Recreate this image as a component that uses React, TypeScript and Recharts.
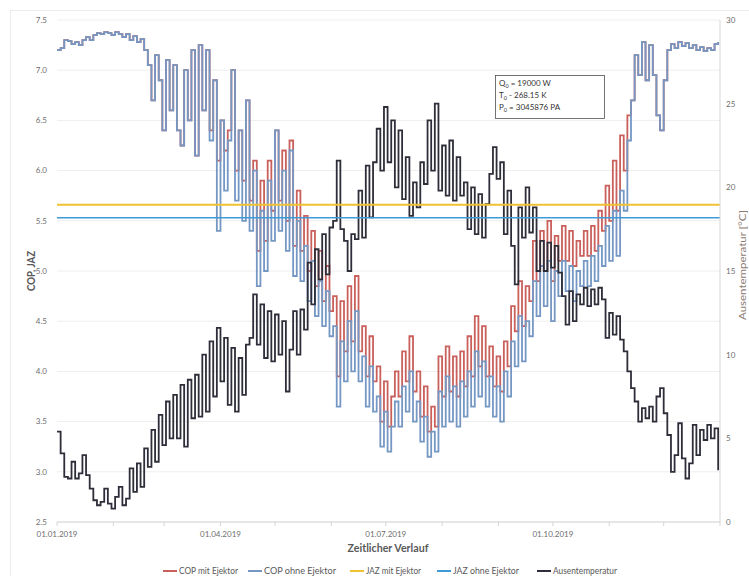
import { CartesianGrid, ComposedChart, Line, ReferenceLine, XAxis, YAxis } from 'recharts';

// one sample every 2 days, starting 01.01.2019
const STEP_DAYS = 2;

const COP_OHNE = [
  7.2, 7.22, 7.3, 7.29, 7.26, 7.28, 7.25, 7.3, 7.33, 7.3,
  7.35, 7.37, 7.36, 7.38, 7.37, 7.35, 7.38, 7.36, 7.33, 7.36,
  7.3, 7.34, 7.28, 7.31, 7.2, 7.05, 6.7, 7.15, 6.9, 6.4,
  7.1, 6.6, 7.05, 6.4, 6.25, 7.0, 6.5, 7.2, 6.15, 7.25,
  6.6, 7.2, 6.3, 6.9, 5.4, 6.5, 5.8, 6.3, 7.0, 5.7,
  6.4, 5.5, 6.7, 5.4, 6.0, 4.85, 5.6, 5.0, 5.9, 5.3,
  6.4, 5.4, 6.0, 5.2, 6.2, 4.95, 5.5, 4.9, 5.25, 4.7,
  5.1, 4.55, 4.9, 4.45, 4.8, 4.35, 4.45, 3.65, 4.3, 3.9,
  4.5, 4.0, 4.6, 3.9, 4.15, 3.65, 4.05, 3.6, 3.75, 3.25,
  3.6, 3.2, 3.45, 3.7, 3.45, 3.85, 3.6, 4.0, 3.5, 3.7,
  3.3, 3.55, 3.15, 3.4, 3.2, 3.8, 3.45, 3.95, 3.5, 3.85,
  3.45, 3.9, 3.55, 4.0, 3.65, 4.2, 3.75, 4.1, 3.65, 3.95,
  3.55, 3.85, 3.5, 4.0, 3.75, 4.3, 4.05, 4.55, 4.1, 4.5,
  4.35, 4.9, 4.55, 5.05, 4.65, 5.1, 4.5, 5.0, 4.75, 5.1,
  4.8, 5.05, 4.7, 5.0, 4.85, 5.1, 4.85, 5.15, 4.9, 5.25,
  5.05, 5.45, 5.1, 5.6, 5.15, 5.8, 5.6, 6.3, 6.7, 7.15,
  6.95, 7.28, 6.9, 7.25, 6.95, 6.55, 6.4, 6.9, 7.2, 7.26,
  7.22, 7.28, 7.24, 7.27, 7.22, 7.25, 7.2, 7.23, 7.19, 7.22,
  7.2, 7.26, 7.28,
];

const COP_MIT = [
  7.2, 7.22, 7.3, 7.29, 7.26, 7.28, 7.25, 7.3, 7.33, 7.3,
  7.35, 7.37, 7.36, 7.38, 7.37, 7.35, 7.38, 7.36, 7.33, 7.36,
  7.3, 7.34, 7.28, 7.31, 7.2, 7.05, 6.7, 7.15, 6.9, 6.4,
  7.1, 6.6, 7.05, 6.4, 6.25, 7.0, 6.5, 7.2, 6.15, 7.25,
  6.6, 7.2, 6.4, 6.9, 6.1, 6.5, 6.2, 6.4, 7.0, 6.0,
  6.4, 5.9, 6.7, 5.7, 6.1, 5.2, 5.9, 5.3, 6.1, 5.6,
  6.4, 5.7, 6.2, 5.5, 6.3, 5.25, 5.8, 5.2, 5.55, 5.0,
  5.4, 4.85, 5.2, 4.7, 5.05, 4.6, 4.75, 3.95, 4.7, 4.2,
  4.85, 4.3, 4.95, 4.2, 4.45, 3.95, 4.35, 3.9, 4.05, 3.5,
  3.9, 3.45, 3.75, 4.0, 3.75, 4.2, 3.9, 4.35, 3.8, 4.0,
  3.55, 3.85, 3.4, 3.65, 3.45, 4.15, 3.75, 4.25, 3.8, 4.15,
  3.75, 4.2, 3.85, 4.35, 3.95, 4.55, 4.05, 4.45, 3.95, 4.25,
  3.85, 4.15, 3.8, 4.3, 4.05, 4.65, 4.4, 4.9, 4.45, 4.85,
  4.7, 5.3, 4.9, 5.4, 5.0, 5.5, 4.9, 5.35, 5.1, 5.45,
  5.1, 5.4, 5.05, 5.3, 5.15, 5.4, 5.15, 5.45, 5.2, 5.6,
  5.4, 5.85, 5.5, 6.1, 5.6, 6.35, 6.0, 6.55, 6.7, 7.15,
  6.95, 7.28, 6.9, 7.25, 6.95, 6.55, 6.4, 6.9, 7.2, 7.26,
  7.22, 7.28, 7.24, 7.27, 7.22, 7.25, 7.2, 7.23, 7.19, 7.22,
  7.2, 7.26, 7.28,
];

const AUSSENTEMP = [
  5.4, 4.1, 2.7, 2.6, 3.6, 2.6, 2.9, 4.0, 2.8, 2.0,
  1.3, 1.0, 1.2, 2.0, 1.1, 0.8, 1.5, 2.1, 1.0, 1.4,
  3.2, 1.8, 3.5, 2.1, 4.4, 3.3, 5.5, 3.6, 6.4, 4.6,
  7.2, 5.0, 7.6, 5.0, 8.2, 4.5, 8.5, 6.2, 8.8, 6.3,
  10.0, 6.6, 10.8, 7.5, 11.6, 8.4, 11.0, 7.0, 10.4, 6.6,
  9.8, 7.6, 10.6, 11.0, 13.6, 10.6, 13.0, 9.8, 12.6, 9.6,
  12.4, 10.0, 12.0, 7.8, 10.3, 12.6, 10.0, 12.7, 11.5, 15.5,
  13.0, 16.3, 14.5, 17.2, 14.8, 17.6, 18.0, 21.6, 17.5, 16.8,
  15.0, 17.2, 16.9, 19.8, 17.0, 21.3, 18.2, 21.5, 23.5, 21.0,
  24.8, 21.5, 24.0, 20.0, 23.4, 19.3, 21.8, 18.3, 20.3, 18.8,
  21.5, 20.2, 24.0, 21.0, 25.0, 19.8, 22.5, 19.5, 22.8, 19.2,
  21.8, 19.5, 20.3, 17.5, 20.0, 17.2, 19.6, 17.0, 19.0, 20.8,
  22.4, 20.5, 21.5, 17.2, 19.8, 16.5, 14.2, 18.8, 17.0, 20.0,
  17.3, 18.8, 15.0, 16.8, 15.0, 16.7, 15.2, 16.5, 14.9, 13.5,
  11.8, 13.8, 12.0, 13.6, 13.0, 14.0, 12.9, 13.9, 13.0, 14.0,
  13.3, 11.0, 12.5, 11.2, 12.3, 10.9, 10.2, 9.0, 8.0, 7.2,
  6.0, 6.8, 6.2, 6.9, 6.0, 7.5, 8.0, 6.5, 5.2, 3.0,
  4.0, 5.9, 3.8, 2.6, 3.5, 5.8, 4.0, 5.5, 4.9, 5.8,
  5.0, 5.6, 3.1,
];

const JAZ_MIT = 5.66;
const JAZ_OHNE = 5.53;

const MONTH_TICKS = [0, 31, 59, 90, 120, 151, 181, 212, 243, 273, 304, 334, 365];
const QUARTER_LABELS: Record<number, string> = {
  0: '01.01.2019',
  90: '01.04.2019',
  181: '01.07.2019',
  273: '01.10.2019',
};
const COP_TICKS = [2.5, 3, 3.5, 4, 4.5, 5, 5.5, 6, 6.5, 7, 7.5];
const TEMP_TICKS = [0, 5, 10, 15, 20, 25, 30];

const C_MIT = '#c9605b';
const C_OHNE = '#7597c4';
const C_JAZ_MIT = '#f0c232';
const C_JAZ_OHNE = '#3f9ad6';
const C_TEMP = '#2e2e3a';

const LEGEND = [
  { name: 'COP mit Ejektor', color: C_MIT, x: 163, w: 59 },
  { name: 'COP ohne Ejektor', color: C_OHNE, x: 248, w: 72 },
  { name: 'JAZ mit Ejektor', color: C_JAZ_MIT, x: 350, w: 55 },
  { name: 'JAZ ohne Ejektor', color: C_JAZ_OHNE, x: 437, w: 66 },
  { name: 'Ausentemperatur', color: C_TEMP, x: 537, w: 64 },
];

const rows = COP_OHNE.map((v, i) => ({
  day: i * STEP_DAYS,
  copOhne: v,
  copMit: COP_MIT[i],
  temp: AUSSENTEMP[i],
}));

const FONT = 'Lato, "Liberation Sans", sans-serif';
const GREY = '#595959';
const TICK_GREY = '#6e6e6e';

export default function App() {
  return (
    <div
      style={{
        position: 'absolute',
        left: 0,
        top: 0,
        width: 749,
        height: 576,
        overflow: 'hidden',
        background: '#fff',
        fontFamily: FONT,
      }}
    >
      <ComposedChart
        width={749}
        height={576}
        data={rows}
        margin={{ top: 20, right: 1, bottom: 24, left: 12 }}
      >
        <CartesianGrid vertical={false} stroke="#eeeeee" yAxisId="cop" />
        <XAxis
          dataKey="day"
          type="number"
          domain={[0, 365]}
          ticks={MONTH_TICKS}
          interval={0}
          tickFormatter={(d: number) => QUARTER_LABELS[d] ?? ''}
          height={30}
          stroke="#d6d6d6"
          tickSize={4}
          tickMargin={5}
          tick={{ fontSize: 8, fill: TICK_GREY, fontFamily: FONT }}
        />
        <YAxis
          yAxisId="cop"
          domain={[2.5, 7.5]}
          ticks={COP_TICKS}
          tickFormatter={(v: number) => v.toFixed(1)}
          width={45}
          axisLine={false}
          tickLine={false}
          tickSize={4}
          tickMargin={6}
          tick={{ fontSize: 8, fill: TICK_GREY, fontFamily: FONT }}
        />
        <YAxis
          yAxisId="temp"
          orientation="right"
          domain={[0, 30]}
          ticks={TEMP_TICKS}
          width={28}
          axisLine={{ stroke: '#d6d6d6' }}
          tickLine={false}
          tickSize={0}
          tickMargin={6}
          tick={{ fontSize: 8, fill: TICK_GREY, fontFamily: FONT, textAnchor: 'start' }}
        />
        <Line
          yAxisId="cop"
          type="stepAfter"
          dataKey="copMit"
          stroke={C_MIT}
          strokeWidth={1.8}
          dot={false}
          isAnimationActive={false}
        />
        <Line
          yAxisId="cop"
          type="stepAfter"
          dataKey="copOhne"
          stroke={C_OHNE}
          strokeWidth={1.8}
          dot={false}
          isAnimationActive={false}
        />
        <Line
          yAxisId="temp"
          type="stepAfter"
          dataKey="temp"
          stroke={C_TEMP}
          strokeWidth={1.8}
          dot={false}
          isAnimationActive={false}
        />
        <ReferenceLine yAxisId="cop" y={JAZ_MIT} stroke={C_JAZ_MIT} strokeWidth={2} />
        <ReferenceLine yAxisId="cop" y={JAZ_OHNE} stroke={C_JAZ_OHNE} strokeWidth={1.5} />
      </ComposedChart>

      <svg
        width={749}
        height={576}
        style={{ position: 'absolute', left: 0, top: 0, pointerEvents: 'none' }}
        fontFamily={FONT}
      >
        <line x1={10.5} y1={10} x2={10.5} y2={576} stroke="#ececec" />
        <line x1={10} y1={10.5} x2={749} y2={10.5} stroke="#ececec" />

        <text
          transform="translate(30,271) rotate(-90)"
          textAnchor="middle"
          dominantBaseline="central"
          fontSize={11}
          fontWeight="bold"
          fill={GREY}
          textLength={40}
          lengthAdjust="spacingAndGlyphs"
        >
          COP, JAZ
        </text>
        <text
          transform="translate(746,265) rotate(-90)"
          textAnchor="middle"
          fontSize={9}
          fill="#8a7a70"
          textLength={110}
          lengthAdjust="spacingAndGlyphs"
        >
          Ausentemperatur [°C]
        </text>
        <text
          x={388}
          y={552}
          textAnchor="middle"
          fontSize={12}
          fontWeight="bold"
          fill={GREY}
          textLength={81}
          lengthAdjust="spacingAndGlyphs"
        >
          Zeitlicher Verlauf
        </text>

        {LEGEND.map((l) => (
          <g key={l.name}>
            <line x1={l.x} y1={571} x2={l.x + 14} y2={571} stroke={l.color} strokeWidth={2} />
            <text
              x={l.x + 16}
              y={574}
              fontSize={9}
              fill={GREY}
              textLength={l.w}
              lengthAdjust="spacingAndGlyphs"
            >
              {l.name}
            </text>
          </g>
        ))}

        <rect x={495.5} y={75.5} width={109} height={43} fill="#fff" stroke="#505050" strokeWidth={0.8} />
        <g fontSize={8} fill="#333">
          <text x={499} y={86}>
            Q<tspan fontSize={5.5} dy={2}>0</tspan>
            <tspan dy={-2}> = 19000 W</tspan>
          </text>
          <text x={499} y={98}>
            T<tspan fontSize={5.5} dy={2}>0</tspan>
            <tspan dy={-2}> - 268.15 K</tspan>
          </text>
          <text x={499} y={110}>
            P<tspan fontSize={5.5} dy={2}>0</tspan>
            <tspan dy={-2}> = 3045876 PA</tspan>
          </text>
        </g>
      </svg>
    </div>
  );
}
